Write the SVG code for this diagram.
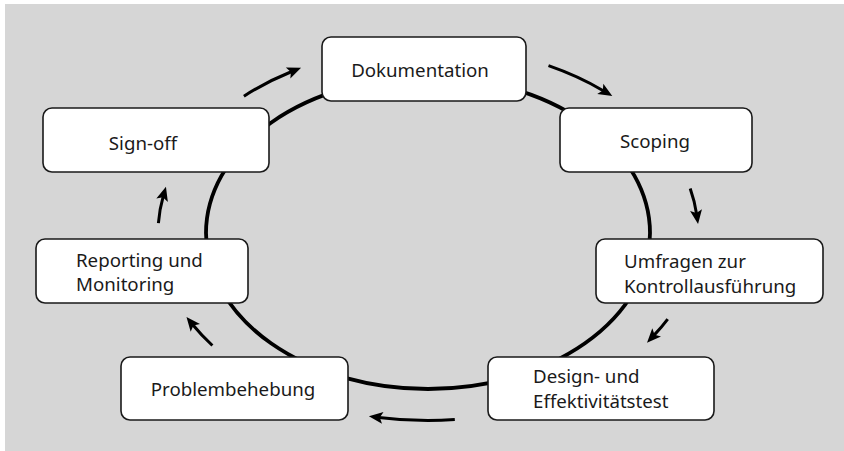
<svg xmlns="http://www.w3.org/2000/svg" width="844" height="451" viewBox="0 0 844 451">
  <style>
    .node rect { fill: #ffffff; stroke: #1a1a1a; stroke-width: 1.6; }
    .node text { font-family: "Noto Sans", "Open Sans", sans-serif; font-size: 18.7px; fill: #1a1a1a; }
    .ring { fill: none; stroke: #000000; stroke-width: 3.8; }
    .arrow { fill: none; stroke: #000000; stroke-width: 3; marker-end: url(#head); }
  </style>
  <defs>
    <marker id="head" markerUnits="userSpaceOnUse" markerWidth="30" markerHeight="30" viewBox="-10 -15 30 30" refX="0" refY="0" orient="auto" overflow="visible">
      <path d="M10,0 L-4,-6 L-1,0 L-4,6 Z" fill="#000000"/>
    </marker>
  </defs>
  <rect x="5" y="4" width="839" height="447" fill="#d6d6d6"/>
  <g id="connectors">
    <ellipse class="ring" cx="428" cy="233" rx="222" ry="156"/>
    <path class="arrow" d="M243.9,96.2 A270,187 0 0 1 291.8,71.5"/>
    <path class="arrow" d="M548.5,65.7 A270,187 0 0 1 603.7,91.0"/>
    <path class="arrow" d="M690.2,188.4 A270,187 0 0 1 696.6,214.1"/>
    <path class="arrow" d="M667.7,319.1 A270,187 0 0 1 653.9,335.4"/>
    <path class="arrow" d="M454.8,419.6 A270,187 0 0 1 378.8,417.4"/>
    <path class="arrow" d="M212.4,345.5 A270,187 0 0 1 192.8,324.8"/>
    <path class="arrow" d="M158.4,223.2 A270,187 0 0 1 163.2,196.4"/>
  </g>
  <g id="node-dokumentation" class="node">
    <rect x="322" y="37" width="204" height="64" rx="9"/>
    <text x="420" y="77" text-anchor="middle">Dokumentation</text>
  </g>
  <g id="node-scoping" class="node">
    <rect x="560" y="108" width="192" height="64" rx="9"/>
    <text x="655" y="148" text-anchor="middle">Scoping</text>
  </g>
  <g id="node-umfragen" class="node">
    <rect x="596" y="239" width="227" height="64" rx="9"/>
    <text x="624" y="268">Umfragen zur</text>
    <text x="624" y="292.5">Kontrollausführung</text>
  </g>
  <g id="node-design" class="node">
    <rect x="488" y="357" width="226" height="63" rx="9"/>
    <text x="533" y="383">Design- und</text>
    <text x="533" y="407.5">Effektivitätstest</text>
  </g>
  <g id="node-problembehebung" class="node">
    <rect x="121" y="357" width="227" height="63" rx="9"/>
    <text x="233" y="396" text-anchor="middle">Problembehebung</text>
  </g>
  <g id="node-reporting" class="node">
    <rect x="36" y="239" width="212" height="64" rx="9"/>
    <text x="76" y="267">Reporting und</text>
    <text x="76" y="290.5">Monitoring</text>
  </g>
  <g id="node-signoff" class="node">
    <rect x="43" y="108" width="226" height="64" rx="9"/>
    <text x="143" y="150" text-anchor="middle">Sign-off</text>
  </g>
</svg>
